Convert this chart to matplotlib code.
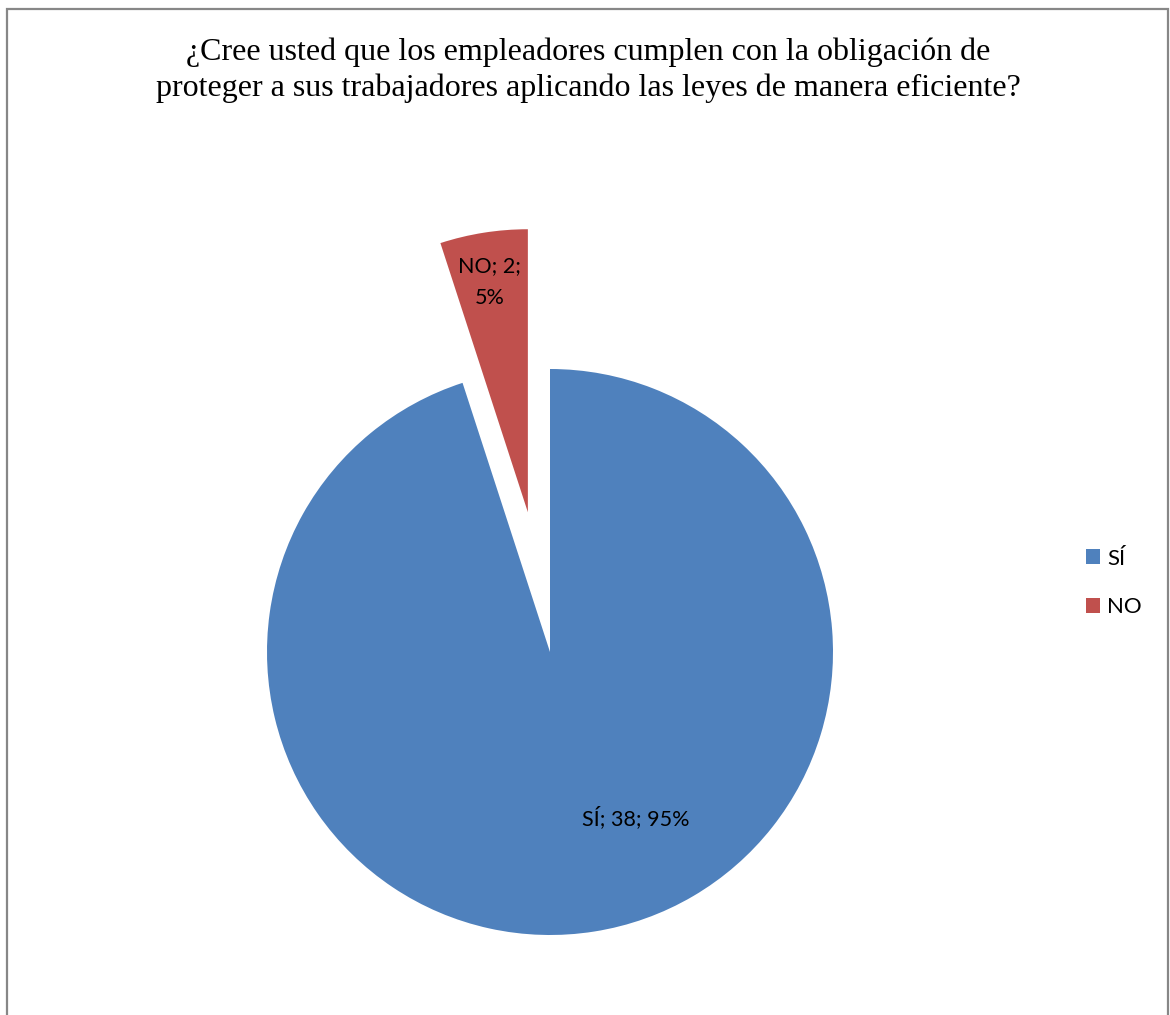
import matplotlib
matplotlib.use("Agg")
import matplotlib.pyplot as plt
from matplotlib.patches import Rectangle

categories = ["SÍ", "NO"]
counts = [38, 2]
colors = ["#4F81BD", "#C0504D"]
title = "¿Cree usted que los empleadores cumplen con la obligación de\nproteger a sus trabajadores aplicando las leyes de manera eficiente?"

W, H = 1170, 1015
fig = plt.figure(figsize=(W / 100, H / 100), dpi=100)
ax = fig.add_axes([0, 0, 1, 1])

total = sum(counts)
cx, cy, r = 550, H - 652, 283
wedges, _ = ax.pie(counts, colors=colors, startangle=90, counterclock=False,
                   explode=[0, 0.5 * r], radius=r, center=(cx, cy), frame=True,
                   wedgeprops=dict(linewidth=0))
ax.set_xlim(0, W)
ax.set_ylim(0, H)
ax.set_aspect("auto")
ax.axis("off")

label_font = dict(family=["Lato", "DejaVu Sans"], fontsize=15.5, color="black")
lbl = [f"{c}; {n}; {round(100 * n / total)}%" for c, n in zip(categories, counts)]
ax.text(636, H - 818, lbl[0], ha="center", va="center", **label_font)
ax.text(490, H - 282, f"{categories[1]}; {counts[1]};\n{round(100 * counts[1] / total)}%",
        ha="center", va="center", linespacing=1.75, **label_font)

fig.text(588 / W, 1 - 70 / H, title, ha="center", va="center",
         family=["Liberation Serif"], fontsize=23, linespacing=1.3)

leg = fig.legend(wedges, categories, loc="center left",
                 bbox_to_anchor=(1066 / W, 1 - 583 / H), frameon=False,
                 prop=dict(family=["Lato", "DejaVu Sans"], size=16),
                 handlelength=0.65, handleheight=0.65, handletextpad=0.3,
                 labelspacing=1.3)

fig.patches.append(Rectangle((7 / W, -0.05), (1168 - 7) / W, 1.05 - 9 / H,
                             transform=fig.transFigure, fill=False,
                             edgecolor="#878787", linewidth=1.6))

fig.savefig("out.png", dpi=100)
